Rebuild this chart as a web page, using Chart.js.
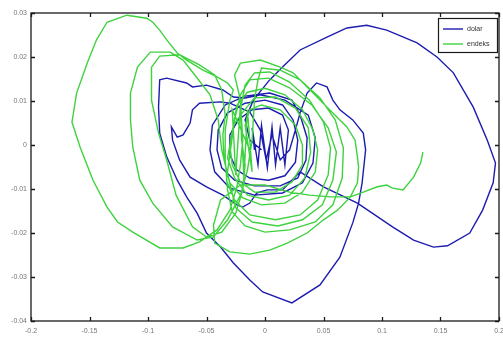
<!DOCTYPE html>
<html>
<head>
<meta charset="utf-8">
<script src="https://cdn.jsdelivr.net/npm/chart.js@4.4.1/dist/chart.umd.min.js"></script>
<style>
  html, body { margin: 0; padding: 0; background: #fff; }
  #wrap { width: 503px; height: 337px; position: relative; }
  #c { filter: blur(0.35px); }
</style>
</head>
<body>
<div id="wrap"><canvas id="c" width="503" height="337"></canvas></div>
<script>
// Series names shown in the legend
const seriesNames = ['dolar', 'endeks'];

// dolar trajectory (x, y)
const dolarX = [-0.009,-0.011,-0.006,-0.003,0.002,0.006,0.009,0.013,0.017,0.020,
  0.015,0.003,-0.011,-0.023,-0.030,-0.030,-0.024,-0.013,0.003,0.017,0.026,0.028,0.024,
  0.015,0.000,-0.017,-0.032,-0.040,-0.041,-0.037,-0.026,-0.009,0.013,0.028,0.035,0.036,0.030,
  0.023,0.004,-0.017,-0.034,-0.045,-0.047,-0.043,-0.030,-0.009,0.015,0.032,0.041,0.043,0.037,
  0.017,-0.004,-0.017,-0.027,-0.036,-0.050,-0.062,-0.067,-0.084,-0.090,-0.091,-0.090,-0.084,
  -0.075,-0.067,-0.058,-0.050,-0.038,-0.027,-0.013,-0.002,0.023,0.047,0.064,0.075,0.080,0.083,
  0.086,0.084,0.075,0.064,0.058,0.053,0.044,0.036,0.030,0.026,0.021,0.013,
  0.006,0.001,-0.004,-0.013,
  -0.030,-0.038,-0.056,-0.062,-0.064,-0.070,-0.075,-0.080,-0.079,-0.073,-0.064,-0.050,-0.036,
  -0.024,-0.019,-0.013,-0.007,0.002,0.015,0.023,
  0.030,0.050,0.079,0.109,0.127,0.144,0.156,0.175,0.186,0.195,0.197,0.190,0.178,0.161,0.147,
  0.130,0.104,0.087,0.070,0.053,0.030,0.015,0.004,-0.010,-0.017,-0.013,-0.003];
const dolarY = [-0.0011,0.0039,-0.0045,0.0045,-0.0052,0.0041,-0.0045,0.0039,-0.0045,0.0034,
  0.0068,0.0084,0.0080,0.0057,0.0023,-0.0023,-0.0057,-0.0075,-0.0080,-0.0070,-0.0039,0.0011,0.0057,
  0.0091,0.0102,0.0095,0.0073,0.0034,-0.0011,-0.0052,-0.0080,-0.0093,-0.0093,-0.0075,-0.0034,0.0016,0.0068,
  0.0102,0.0118,0.0111,0.0091,0.0045,-0.0011,-0.0061,-0.0098,-0.0114,-0.0109,-0.0086,-0.0041,0.0016,0.0068,
  0.0102,0.0114,0.0107,0.0109,0.0125,0.0136,0.0132,0.0141,0.0152,0.0148,0.0086,0.0027,-0.0027,
  -0.0080,-0.0118,-0.0155,-0.0200,-0.0232,-0.0268,-0.0307,-0.0334,-0.0359,-0.0318,-0.0255,-0.0177,-0.0132,-0.0086,
  -0.0011,0.0027,0.0057,0.0080,0.0102,0.0132,0.0141,0.0118,0.0073,0.0034,-0.0011,-0.0034,
  0.0023,-0.0034,0.0034,0.0075,
  0.0095,0.0098,0.0095,0.0080,0.0050,0.0023,0.0018,0.0041,0.0011,-0.0034,-0.0073,-0.0095,-0.0114,
  -0.0136,-0.0141,-0.0132,-0.0109,-0.0102,-0.0102,-0.0080,
  -0.0061,-0.0095,-0.0132,-0.0186,-0.0216,-0.0232,-0.0229,-0.0200,-0.0148,-0.0086,-0.0041,0.0011,0.0086,0.0164,0.0200,
  0.0232,0.0261,0.0272,0.0266,0.0245,0.0216,0.0177,0.0148,0.0102,0.0057,0.0011,-0.0011];

// endeks trajectory (x, y)
const endeksX = [-0.013,
  -0.028,-0.025,-0.021,-0.018,-0.015,-0.011,
  -0.017,-0.013,-0.003,0.013,0.026,0.032,0.032,0.023,0.009,-0.009,-0.021,-0.028,-0.030,-0.027,
  -0.021,-0.009,0.009,0.026,0.037,0.039,0.034,0.021,0.003,-0.015,-0.026,-0.032,
  -0.024,-0.015,0.000,0.017,0.032,0.041,0.045,0.043,0.032,0.017,-0.003,-0.019,-0.030,-0.035,-0.036,
  -0.034,-0.037,-0.043,-0.056,-0.073,-0.090,-0.097,-0.097,-0.091,-0.084,-0.076,-0.062,-0.050,-0.037,-0.025,-0.019,-0.017,-0.020,
  -0.021,-0.017,-0.009,0.004,0.021,0.038,0.050,0.056,0.054,0.045,0.030,0.009,-0.013,-0.026,-0.033,
  -0.026,-0.021,-0.013,0.003,0.021,0.040,0.054,0.061,0.058,0.049,0.032,0.011,-0.011,-0.025,
  -0.037,-0.040,-0.047,-0.060,-0.070,-0.081,-0.098,-0.109,-0.115,-0.115,-0.113,-0.107,-0.096,-0.079,-0.058,-0.044,-0.032,-0.021,-0.015,
  -0.011,-0.009,-0.006,-0.003,0.013,0.030,0.047,0.060,0.067,0.066,0.058,0.043,0.021,0.000,-0.017,-0.028,
  -0.032,-0.034,-0.034,-0.030,-0.027,-0.032,-0.041,-0.053,-0.067,-0.075,-0.084,-0.090,-0.096,-0.101,-0.118,
  -0.135,-0.144,-0.152,-0.161,-0.165,-0.158,-0.147,-0.135,-0.126,-0.113,-0.090,-0.070,-0.056,-0.041,-0.030,-0.024,-0.021,
  -0.019,-0.021,-0.026,-0.021,-0.004,0.013,0.024,0.036,0.047,0.058,0.070,0.077,0.079,0.080,0.079,0.073,0.062,0.050,
  0.036,0.019,0.004,-0.013,-0.030,-0.043,-0.044,
  -0.038,-0.021,0.000,0.021,0.038,0.056,0.073,0.084,0.096,0.104,0.109,0.118,0.127,0.133,0.135];
const endeksY = [-0.0011,
  0.0080,-0.0068,0.0091,-0.0075,0.0080,-0.0061,
  0.0045,0.0080,0.0091,0.0080,0.0045,0.0000,-0.0045,-0.0084,-0.0107,-0.0107,-0.0084,-0.0045,0.0000,0.0045,
  0.0068,0.0107,0.0109,0.0084,0.0039,-0.0016,-0.0075,-0.0114,-0.0125,-0.0114,-0.0075,-0.0030,
  0.0091,0.0120,0.0129,0.0114,0.0080,0.0034,-0.0011,-0.0061,-0.0107,-0.0132,-0.0136,-0.0120,-0.0086,-0.0034,0.0023,
  0.0068,0.0125,0.0159,0.0182,0.0205,0.0202,0.0177,0.0102,0.0027,-0.0034,-0.0114,-0.0186,-0.0209,-0.0198,-0.0155,-0.0102,-0.0045,0.0011,
  0.0080,0.0136,0.0164,0.0166,0.0143,0.0102,0.0052,-0.0007,-0.0068,-0.0125,-0.0159,-0.0170,-0.0159,-0.0125,-0.0080,
  0.0057,0.0114,0.0148,0.0152,0.0130,0.0091,0.0039,-0.0016,-0.0080,-0.0136,-0.0170,-0.0184,-0.0175,-0.0143,
  -0.0011,0.0057,0.0114,0.0159,0.0193,0.0211,0.0211,0.0177,0.0118,0.0057,-0.0005,-0.0080,-0.0132,-0.0186,-0.0216,-0.0209,-0.0170,-0.0114,-0.0057,
  0.0011,0.0102,0.0148,0.0175,0.0170,0.0148,0.0107,0.0057,-0.0007,-0.0075,-0.0136,-0.0175,-0.0193,-0.0198,-0.0184,-0.0152,
  -0.0102,-0.0034,0.0034,0.0102,0.0125,0.0141,0.0155,0.0170,0.0193,0.0209,0.0239,0.0261,0.0279,0.0288,0.0295,
  0.0279,0.0239,0.0186,0.0118,0.0052,-0.0005,-0.0080,-0.0141,-0.0175,-0.0198,-0.0234,-0.0234,-0.0220,-0.0193,-0.0148,-0.0095,-0.0045,
  0.0011,0.0102,0.0159,0.0186,0.0193,0.0177,0.0164,0.0132,0.0102,0.0073,0.0041,0.0011,-0.0027,-0.0050,-0.0086,-0.0118,-0.0148,-0.0170,
  -0.0200,-0.0223,-0.0239,-0.0248,-0.0243,-0.0223,-0.0182,
  -0.0125,-0.0091,-0.0091,-0.0107,-0.0114,-0.0118,-0.0118,-0.0107,-0.0095,-0.0091,-0.0098,-0.0102,-0.0073,-0.0041,-0.0016];

// Axis tick values
const xTicks = [-0.2, -0.15, -0.1, -0.05, 0, 0.05, 0.1, 0.15, 0.2];
const yTicks = [-0.04, -0.03, -0.02, -0.01, 0, 0.01, 0.02, 0.03];

const seriesColors = ['#1c1cb0', '#3fd23f'];

function toPoints(xs, ys) {
  return xs.map((x, i) => ({ x: x, y: ys[i] }));
}

function fmt(v) {
  return String(parseFloat(v.toFixed(3)));
}

// Full box around the plot area with inward ticks on all four sides
const boxPlugin = {
  id: 'box',
  afterDatasetsDraw(chart) {
    const { ctx, chartArea: a, scales } = chart;
    ctx.save();
    ctx.strokeStyle = '#1a1a1a';
    ctx.lineWidth = 1.3;
    ctx.strokeRect(a.left, a.top, a.right - a.left, a.bottom - a.top);
    const t = 4;
    ctx.beginPath();
    xTicks.forEach(v => {
      const px = Math.round(scales.x.getPixelForValue(v)) + 0.5;
      ctx.moveTo(px, a.bottom); ctx.lineTo(px, a.bottom - t);
      ctx.moveTo(px, a.top); ctx.lineTo(px, a.top + t);
    });
    yTicks.forEach(v => {
      const py = Math.round(scales.y.getPixelForValue(v)) + 0.5;
      ctx.moveTo(a.left, py); ctx.lineTo(a.left + t, py);
      ctx.moveTo(a.right, py); ctx.lineTo(a.right - t, py);
    });
    ctx.stroke();
    ctx.restore();
  }
};

// Boxed legend in the upper right corner of the plot
const legendBoxPlugin = {
  id: 'legendBox',
  afterDraw(chart) {
    const { ctx, chartArea: a } = chart;
    const w = 59, h = 34;
    const x0 = a.right - w - 2, y0 = a.top + 5;
    ctx.save();
    ctx.fillStyle = '#fff';
    ctx.fillRect(x0, y0, w, h);
    ctx.strokeStyle = '#1a1a1a';
    ctx.lineWidth = 1.2;
    ctx.strokeRect(x0 + 0.5, y0 + 0.5, w, h);
    ctx.font = '7px "Liberation Sans", Arial, sans-serif';
    ctx.textBaseline = 'middle';
    chart.data.datasets.forEach((ds, i) => {
      const yy = y0 + 11 + i * 15;
      ctx.strokeStyle = ds.borderColor;
      ctx.lineWidth = 1.4;
      ctx.beginPath();
      ctx.moveTo(x0 + 5, yy); ctx.lineTo(x0 + 25, yy);
      ctx.stroke();
      ctx.fillStyle = '#333';
      ctx.fillText(ds.label, x0 + 29, yy);
    });
    ctx.restore();
  }
};

new Chart(document.getElementById('c'), {
  type: 'scatter',
  data: {
    datasets: [
      { label: seriesNames[0], data: toPoints(dolarX, dolarY), showLine: true,
        borderColor: seriesColors[0], backgroundColor: seriesColors[0],
        borderWidth: 1.4, pointRadius: 0, tension: 0, order: 1 },
      { label: seriesNames[1], data: toPoints(endeksX, endeksY), showLine: true,
        borderColor: seriesColors[1], backgroundColor: seriesColors[1],
        borderWidth: 1.4, pointRadius: 0, tension: 0, order: 0 }
    ]
  },
  options: {
    responsive: false,
    animation: false,
    devicePixelRatio: 1,
    layout: { padding: { top: 13, right: 4, left: 0, bottom: 0 } },
    plugins: { legend: { display: false }, tooltip: { enabled: false } },
    scales: {
      x: {
        type: 'linear', min: -0.2, max: 0.2,
        grid: { display: false, drawTicks: false },
        border: { display: false },
        afterBuildTicks(s) { s.ticks = xTicks.map(v => ({ value: v })); },
        afterFit(s) { s.height = 16; s.paddingLeft = 0; s.paddingRight = 0; },
        ticks: { color: '#777', font: { size: 7, family: '"Liberation Sans", Arial, sans-serif' },
                 padding: 6, maxRotation: 0, autoSkip: false, callback: v => fmt(v) }
      },
      y: {
        type: 'linear', min: -0.04, max: 0.03,
        grid: { display: false, drawTicks: false },
        border: { display: false },
        afterBuildTicks(s) { s.ticks = yTicks.map(v => ({ value: v })); },
        afterFit(s) { s.width = 31; s.paddingTop = 0; s.paddingBottom = 0; },
        ticks: { color: '#777', font: { size: 7, family: '"Liberation Sans", Arial, sans-serif' },
                 padding: 4, autoSkip: false, callback: v => fmt(v) }
      }
    }
  },
  plugins: [boxPlugin, legendBoxPlugin]
});
</script>
</body>
</html>
